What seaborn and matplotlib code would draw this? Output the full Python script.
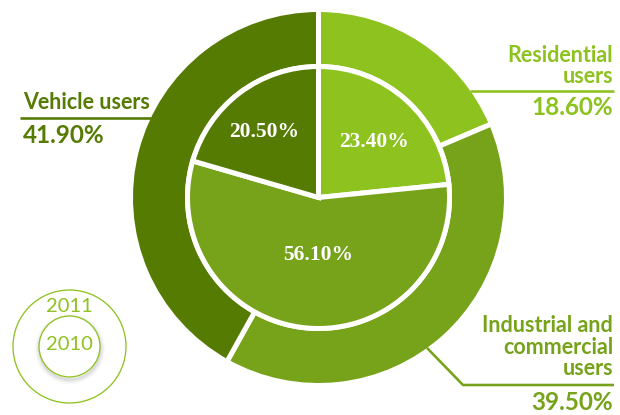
import numpy as np
import matplotlib
matplotlib.use("Agg")
import matplotlib.pyplot as plt
from matplotlib.patches import Circle
import seaborn as sns

# Consumer groups and their shares (%) for the two years
categories = ["Residential\nusers", "Industrial and\ncommercial\nusers", "Vehicle users"]
share_2011 = [18.6, 39.5, 41.9]   # outer ring
share_2010 = [23.4, 56.1, 20.5]   # inner pie
years = ["2011", "2010"]

palette = ["#8DC21F", "#76A31A", "#557B03"]

sns.set_theme(style="white")
plt.rcParams["font.family"] = ["Lato", "DejaVu Sans"]

W, H = 620, 415
PT = 72 / 100  # points per pixel at 100 dpi


def Y(v):
    """Convert a top-down pixel row into the axes' bottom-up coordinate."""
    return H - v


fig = plt.figure(figsize=(W / 100, H / 100), dpi=100)
ax = fig.add_axes([0, 0, 1, 1])

cx, cy = 318.5, Y(197.5)
R_out, R_in = 188.0, 131.0
gap = 5 * PT

outer, _ = ax.pie(share_2011, radius=R_out, center=(cx, cy), startangle=90,
                  counterclock=False, colors=palette,
                  wedgeprops=dict(width=R_out - R_in, edgecolor="white", linewidth=gap))
inner, _ = ax.pie(share_2010, radius=R_in, center=(cx, cy), startangle=90,
                  counterclock=False, colors=palette,
                  wedgeprops=dict(edgecolor="white", linewidth=gap))

ax.set_xlim(0, W)
ax.set_ylim(0, H)
ax.set_aspect("equal")
ax.axis("off")

# Percentages inside the 2010 pie
label_r = [0.60, 0.44, 0.65]
ang_shift = [-3, 5, 3]
for w, v, r, da in zip(inner, share_2010, label_r, ang_shift):
    mid = np.deg2rad((w.theta1 + w.theta2) / 2 + da)
    ax.text(cx + r * R_in * np.cos(mid), cy + r * R_in * np.sin(mid), f"{v:.2f}%",
            ha="center", va="center", color="white", fontsize=15.5,
            fontweight="bold", family=["Liberation Serif", "DejaVu Serif"])

# Callouts for the 2011 ring
R_edge = 185.5
LINE = 21.5


def edge_x(y_img, side):
    dy = (197.5 - y_img)
    return cx + side * np.sqrt(R_edge ** 2 - dy ** 2)


layout = [
    # residential: right aligned, last text baseline, underline row, pct baseline
    dict(x=613, ha="right", base=83, uline=91, pct=115,
         path=lambda: ([edge_x(91, 1), 614], [Y(91), Y(91)])),
    dict(x=613, ha="right", base=375, uline=385, pct=410,
         path=lambda: ([cx + R_edge * np.cos(np.deg2rad(-54.2)), 463, 614],
                       [cy + R_edge * np.sin(np.deg2rad(-54.2)), Y(385), Y(385)])),
    dict(x=23, ha="left", base=109, uline=118, pct=143,
         path=lambda: ([20, edge_x(118, -1)], [Y(118), Y(118)])),
]

for cat, v, col, lay in zip(categories, share_2011, palette, layout):
    lines = cat.split("\n")
    n = len(lines)
    for i, ln in enumerate(lines):
        ax.text(lay["x"], Y(lay["base"] - (n - 1 - i) * LINE), ln, ha=lay["ha"],
                va="baseline", color=col, fontsize=15.5, fontweight="bold")
    xs, ys = lay["path"]()
    ax.plot(xs, ys, color=col, lw=2.6 * PT, solid_capstyle="butt", zorder=1)
    ax.text(lay["x"], Y(lay["pct"]), f"{v:.2f}%", ha=lay["ha"], va="baseline",
            color=col, fontsize=17.5, fontweight="bold")

# Year key: outer circle = 2011, inner circle = 2010
kx, ky = 69.5, Y(346.5)
ax.add_patch(Circle((kx, ky), 56.5, fill=False, ec="#8DC21F", lw=1.3 * PT))
for k, a in enumerate([0.05, 0.04, 0.03, 0.02]):
    ax.add_patch(Circle((kx + 0.5, ky - 2.5), 30.5 + 0.5 * k, fill=False,
                        ec="black", alpha=a, lw=(2 + 1.5 * k) * PT))
ax.add_patch(Circle((kx, ky), 30.5, fc="white", ec="#8DC21F", lw=1.3 * PT))
ax.text(kx, Y(306.5), years[0], ha="center", va="center", color="#8DC21F", fontsize=14.5)
ax.text(kx, Y(344.5), years[1], ha="center", va="center", color="#8DC21F", fontsize=14.5)

fig.savefig("out.png", dpi=100, facecolor="white")
